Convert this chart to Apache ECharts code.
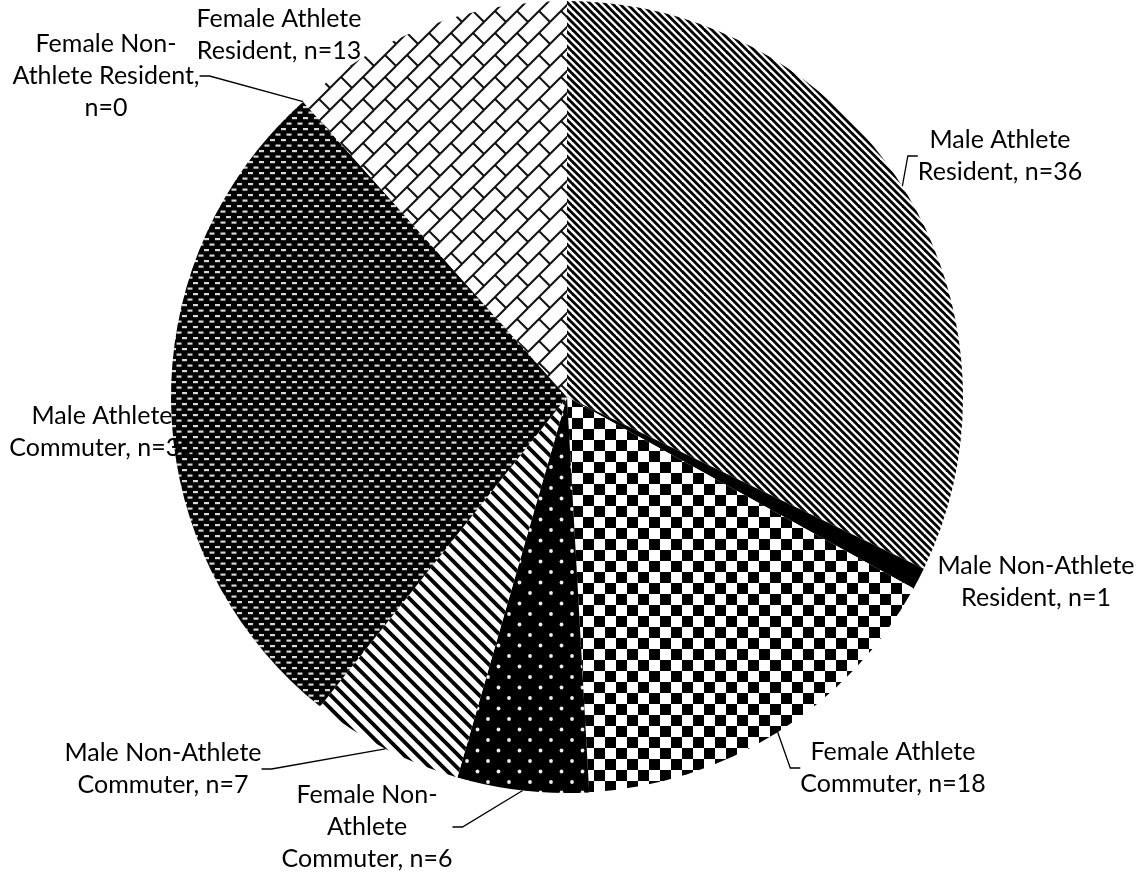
<!DOCTYPE html>
<html>
<head>
<meta charset="utf-8">
<script src="https://cdn.jsdelivr.net/npm/echarts@6/dist/echarts.min.js"></script>
<style>
  html, body { margin: 0; padding: 0; background: #ffffff; }
  #chart { width: 1142px; height: 873px; }
</style>
</head>
<body>
<div id="chart"></div>
<script>
// Group names (with their label line breaks) and head counts, clockwise from 12 o'clock
const categories = [
  'Male Athlete\nResident',
  'Male Non-Athlete\nResident',
  'Female Athlete\nCommuter',
  'Female Non-\nAthlete\nCommuter',
  'Male Non-Athlete\nCommuter',
  'Male Athlete\nCommuter',
  'Female Non-\nAthlete Resident',
  'Female Athlete\nResident'
];
const counts = [36, 1, 18, 6, 7, 31, 0, 13];

// text placed between the group name and "n=" in each label
const countSeparator = [', ', ', ', ', ', ', ', ', ', ', ', ',\n', ', '];

// label block centres and which labels get a leader line
const labelCentres = [
  [1000, 156], [1036, 582], [893, 768], [367, 827],
  [163, 769], [102, 432], [106, 76], [279, 35]
];
const showLeader = [true, false, true, true, true, false, true, false];

// ---- monochrome fill patterns drawn on small canvases ----
function makeTile(w, h, draw) {
  const c = document.createElement('canvas');
  c.width = w; c.height = h;
  const g = c.getContext('2d');
  draw(g, w, h);
  return { image: c, repeat: 'repeat' };
}
// draw a shape at every neighbouring tile offset so it wraps seamlessly
function wrapped(g, w, h, fn) {
  for (const dx of [-w, 0, w]) for (const dy of [-h, 0, h]) {
    g.save(); g.translate(dx, dy); fn(); g.restore();
  }
}
// "\" stripes: n stripes per tile of size s
function downStripes(s, n, width, bg, fg) {
  return makeTile(s, s, (g) => {
    g.fillStyle = bg; g.fillRect(0, 0, s, s);
    g.strokeStyle = fg; g.lineWidth = width; g.lineCap = 'square';
    const step = s / n;
    for (let c = -2 * s; c <= 2 * s; c += step) {
      g.beginPath(); g.moveTo(-s, -s - c); g.lineTo(2 * s, 2 * s - c); g.stroke();
    }
  });
}

const patterns = [
  // thin diagonal stripes
  downStripes(22, 3, 2.8, '#ffffff', '#000000'),
  // solid
  '#000000',
  // large checkerboard
  makeTile(22, 22, (g) => {
    g.fillStyle = '#ffffff'; g.fillRect(0, 0, 22, 22);
    g.fillStyle = '#000000';
    g.fillRect(0, 0, 11, 11);
    g.fillRect(11, 11, 11, 11);
  }),
  // white dots on black
  makeTile(21, 21, (g) => {
    g.fillStyle = '#000000'; g.fillRect(0, 0, 21, 21);
    g.fillStyle = '#eeeeee';
    g.beginPath(); g.arc(5, 5, 1.9, 0, Math.PI * 2); g.fill();
    g.beginPath(); g.arc(15.5, 15.5, 1.9, 0, Math.PI * 2); g.fill();
  }),
  // wide diagonal stripes
  downStripes(27, 2, 3.8, '#ffffff', '#000000'),
  // light dashes on black
  makeTile(11, 11, (g) => {
    g.fillStyle = '#000000'; g.fillRect(0, 0, 11, 11);
    g.fillStyle = '#d8d8d8';
    wrapped(g, 11, 11, () => {
      g.fillRect(0.5, 1.5, 5, 2.2);
      g.fillRect(6, 7, 5, 2.2);
    });
  }),
  // (empty slice)
  '#ffffff',
  // diagonal brick
  makeTile(22, 22, (g) => {
    g.fillStyle = '#ffffff'; g.fillRect(0, 0, 22, 22);
    g.strokeStyle = '#111111'; g.lineWidth = 2; g.lineCap = 'butt';
    wrapped(g, 22, 22, () => {
      g.beginPath(); g.moveTo(0, 22); g.lineTo(22, 0); g.stroke();
      g.beginPath(); g.moveTo(11, 11); g.lineTo(22, 22); g.stroke();
    });
  })
];

const chart = echarts.init(document.getElementById('chart'), null, { renderer: 'canvas' });

const option = {
  backgroundColor: '#ffffff',
  animation: false,
  series: [{
    type: 'pie',
    center: [567, 397],
    radius: 396,
    startAngle: 90,
    clockwise: true,
    avoidLabelOverlap: false,
    emphasis: { disabled: true },
    itemStyle: { borderWidth: 0 },
    label: {
      show: true,
      color: '#000000',
      fontFamily: 'Lato',
      fontSize: 25,
      lineHeight: 32,
      formatter: (p) => p.name + countSeparator[p.dataIndex] + 'n=' + p.value
    },
    labelLine: {
      show: true,
      length: 6,
      length2: 10,
      lineStyle: { color: '#000000', width: 1.3 }
    },
    labelLayout: (params) => {
      const c = labelCentres[params.dataIndex];
      return { x: c[0], y: c[1], align: 'center', verticalAlign: 'middle' };
    },
    data: categories.map((name, i) => ({
      name: name,
      value: counts[i],
      itemStyle: { color: patterns[i] },
      labelLine: { show: showLeader[i] }
    }))
  }]
};

chart.setOption(option);
</script>
</body>
</html>
